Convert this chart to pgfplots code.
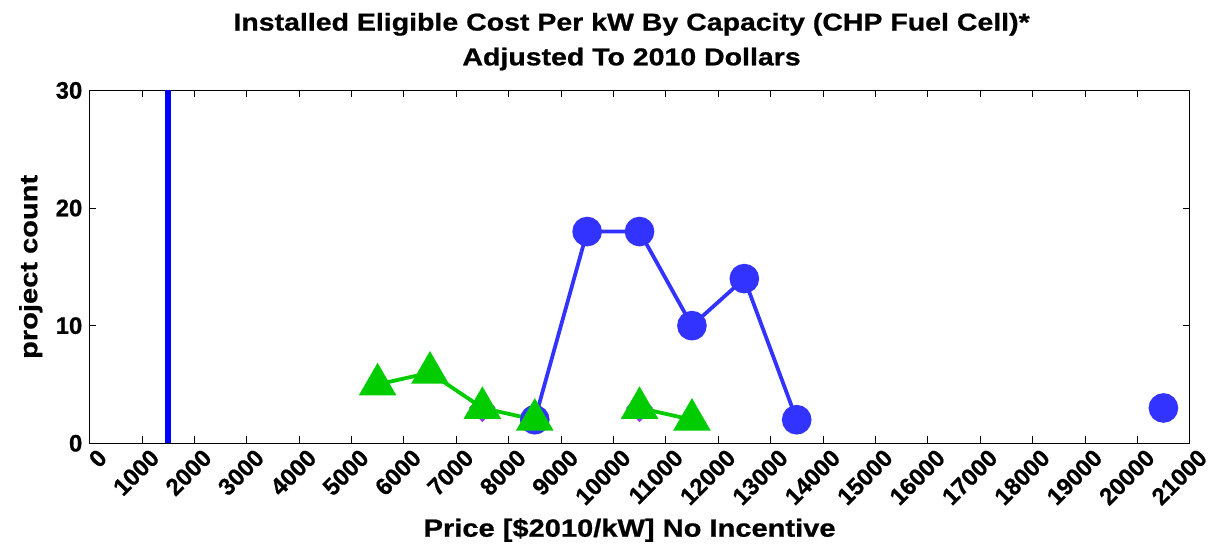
\documentclass[border=0pt]{standalone}
\usepackage{fontspec}
\setmainfont{Liberation Sans}[BoldFeatures={FakeBold=0.8}]
\newfontfamily\widefont{Liberation Sans}[FakeStretch=1.17, BoldFeatures={FakeBold=0.8}]
\usepackage{pgfplots}
\pgfplotsset{compat=1.18}
\definecolor{circblue}{RGB}{51,51,255}
\definecolor{linblue}{RGB}{0,0,255}
\definecolor{trigreen}{RGB}{0,204,0}
\definecolor{dmpurple}{RGB}{153,51,255}
\begin{document}
\begin{tikzpicture}
\begin{axis}[
  name=ax,
  scale only axis,
  width=1107pt, height=355pt,
  xmin=0, xmax=21000, ymin=0, ymax=30,
  xtick={0,1000,...,21000},
  ytick={0,10,20,30},
  scaled x ticks=false,
  tick align=inside,
  major tick length=7pt,
  tick style={black, line width=0.6pt},
  axis line style={black, line width=0.8pt},
  /pgf/number format/assume math mode=true,
  /pgf/number format/set thousands separator={},
  /pgf/number format/fixed,
  ticklabel style={font=\bfseries\fontsize{24}{24}\selectfont},
  xticklabel style={rotate=45, anchor=north east, inner sep=1pt, yshift=-7pt, xshift=3pt},
  yticklabel style={inner sep=1pt, xshift=-6pt},
  title={Installed Eligible Cost Per kW By Capacity (CHP Fuel Cell)*\\Adjusted To 2010 Dollars},
  title style={at={(axis description cs:0.5,1)}, anchor=south, inner sep=0pt,
    yshift=14pt, xshift=-8pt, align=center,
    font=\widefont\bfseries\fontsize{24.5}{35}\selectfont},
  xlabel={Price [\$2010/kW] No Incentive},
  ylabel={project count},
  label style={font=\widefont\bfseries\fontsize{25}{25}\selectfont},
  xlabel style={at={(axis description cs:0.5,0)}, anchor=base, inner sep=0pt,
    yshift=-94pt, xshift=-10pt},
  ylabel style={at={(axis description cs:-0.0533,0.5)}, anchor=center, inner sep=0pt},
  unbounded coords=jump,
]
% reference price line
\addplot[linblue, line width=6.5pt] coordinates {(1500,0) (1500,30)};
% fuel cell systems, circles
\addplot[circblue, line width=3.8pt, mark=*, mark size=13pt,
  mark options={circblue, fill=circblue}] coordinates {
  (8500,2) (9500,18) (10500,18) (11500,10) (12500,14) (13500,2)
  (14500,nan) (20500,3)};
% diamonds
\addplot[dmpurple, only marks, mark=diamond*, mark size=14pt,
  mark options={dmpurple, fill=dmpurple, xscale=1.25}] coordinates {
  (7500,3) (10500,3)};
% triangles
\addplot[trigreen, line width=3.8pt, mark=triangle*, mark size=18pt,
  mark options={trigreen, fill=trigreen}] coordinates {
  (5500,5) (6500,6) (7500,3) (8500,2) (9500,nan) (10500,3) (11500,2)};
\end{axis}
% page frame around the axis
\path ([xshift=-90pt,yshift=-109pt]ax.south west) rectangle ([xshift=13pt,yshift=91pt]ax.north east);
\end{tikzpicture}
\end{document}
